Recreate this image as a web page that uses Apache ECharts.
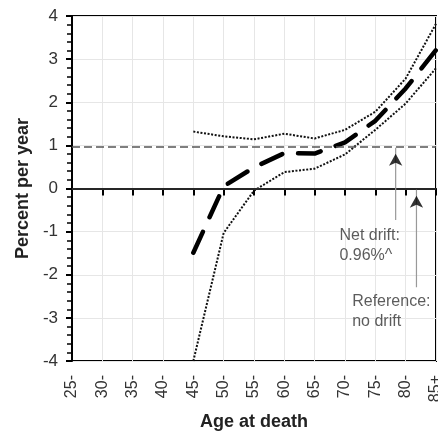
<!DOCTYPE html>
<html><head><meta charset="utf-8">
<script src="https://cdn.jsdelivr.net/npm/echarts@6/dist/echarts.min.js"></script>
<style>html,body{margin:0;padding:0;background:#fff}#c{width:438px;height:434px}</style>
</head><body><div id="c"></div>
<script>
const ages = [45, 50, 55, 60, 65, 70, 75, 80, 85];
const estimate = [-1.49, 0.05, 0.49, 0.82, 0.81, 1.07, 1.57, 2.32, 3.21];
const upper = [1.32, 1.21, 1.14, 1.27, 1.16, 1.36, 1.78, 2.55, 3.82];
const lower = [-4.0, -1.03, -0.05, 0.38, 0.46, 0.79, 1.36, 1.97, 2.79];
const netDrift = 0.96;
const referenceLine = 0;
const xTicks = [25, 30, 35, 40, 45, 50, 55, 60, 65, 70, 75, 80, 85];
const xTickLabels = ['25-', '30-', '35-', '40-', '45-', '50-', '55-', '60-', '65-', '70-', '75-', '80-', '85+'];
const arrowNet = [[78.35, -0.73], [78.35, 0.945]];
const arrowRef = [[81.78, -2.29], [81.78, -0.03]];
const notes = [
  {pos: [69.17, -1.33], text: 'Net drift:\n0.96%^'},
  {pos: [71.27, -2.86], text: 'Reference:\nno drift'}
];
const FONT = 'Liberation Sans, Arial, sans-serif';

const zip = (xs, ys) => xs.map((x, i) => [x, ys[i]]);
const chart = echarts.init(document.getElementById('c'), null, {renderer: 'canvas'});
chart.setOption({
  animation: false,
  backgroundColor: '#fff',
  grid: {left: 72, right: 2, top: 16, bottom: 73, show: true, borderColor: '#000', borderWidth: 2,
    backgroundColor: 'transparent', outerBoundsMode: 'none'},
  xAxis: {
    type: 'value', min: 25, max: 85, interval: 5,
    name: 'Age at death', nameLocation: 'middle', nameGap: 52,
    nameTextStyle: {fontFamily: FONT, fontSize: 18, fontWeight: 'bold', color: '#222'},
    axisLine: {show: true, lineStyle: {color: '#000', width: 2}},
    axisTick: {show: true, length: 7, lineStyle: {color: '#000', width: 2}},
    axisLabel: {rotate: 90, margin: 14, fontFamily: FONT, fontSize: 16, color: '#333',
      formatter: v => { const i = xTicks.indexOf(v); return i >= 0 ? xTickLabels[i] : ''; }},
    splitLine: {show: true, lineStyle: {color: '#e6e6e6', width: 1}}
  },
  yAxis: {
    type: 'value', min: -4, max: 4, interval: 1,
    name: 'Percent per year', nameLocation: 'middle', nameGap: 38,
    nameTextStyle: {fontFamily: FONT, fontSize: 18, fontWeight: 'bold', color: '#222'},
    axisLine: {show: true, lineStyle: {color: '#000', width: 2}},
    axisTick: {show: true, length: 6, lineStyle: {color: '#000', width: 2}},
    minorTick: {show: true, splitNumber: 5, length: 5, lineStyle: {color: '#000', width: 1.5}},
    axisLabel: {margin: 14, fontFamily: FONT, fontSize: 17, color: '#333'},
    splitLine: {show: true, lineStyle: {color: '#e6e6e6', width: 1}}
  },
  series: [
    {type: 'line', data: [], silent: true,
      markLine: {silent: true, symbol: ['none', 'none'], label: {show: false},
        data: [
          {yAxis: referenceLine, lineStyle: {color: '#333', width: 1.5, type: 'solid'}},
          {yAxis: netDrift, lineStyle: {color: '#555', width: 1.5, type: [8, 4]}}
        ]}
    },
    {type: 'line', data: zip(ages, upper), symbol: 'none', lineStyle: {color: '#111', width: 2, type: [2, 1.6]}, z: 3},
    {type: 'line', data: zip(ages, lower), symbol: 'none', lineStyle: {color: '#111', width: 2, type: [2, 1.6]}, z: 3},
    {type: 'line', data: zip(ages, estimate), symbol: 'none', lineStyle: {color: '#000', width: 4.5, type: [23, 16], cap: 'round'}, z: 4},
    {type: 'line', data: arrowNet, symbol: 'none', lineStyle: {color: '#999', width: 1.2}, z: 5},
    {type: 'line', data: arrowRef, symbol: 'none', lineStyle: {color: '#999', width: 1.2}, z: 5},
    {type: 'scatter', data: [arrowNet[1], arrowRef[1]], symbol: 'arrow', symbolSize: [10, 12], symbolOffset: [0, '50%'],
      itemStyle: {color: '#000'}, z: 6},
    {type: 'scatter', data: notes.map(n => ({value: n.pos, name: n.text})), symbolSize: 1,
      itemStyle: {color: 'transparent'}, z: 6,
      label: {show: true, position: [0, 0], align: 'left', verticalAlign: 'middle', formatter: p => p.name,
        fontFamily: FONT, fontSize: 16, lineHeight: 20, color: '#333'}}
  ]
});
</script></body></html>
